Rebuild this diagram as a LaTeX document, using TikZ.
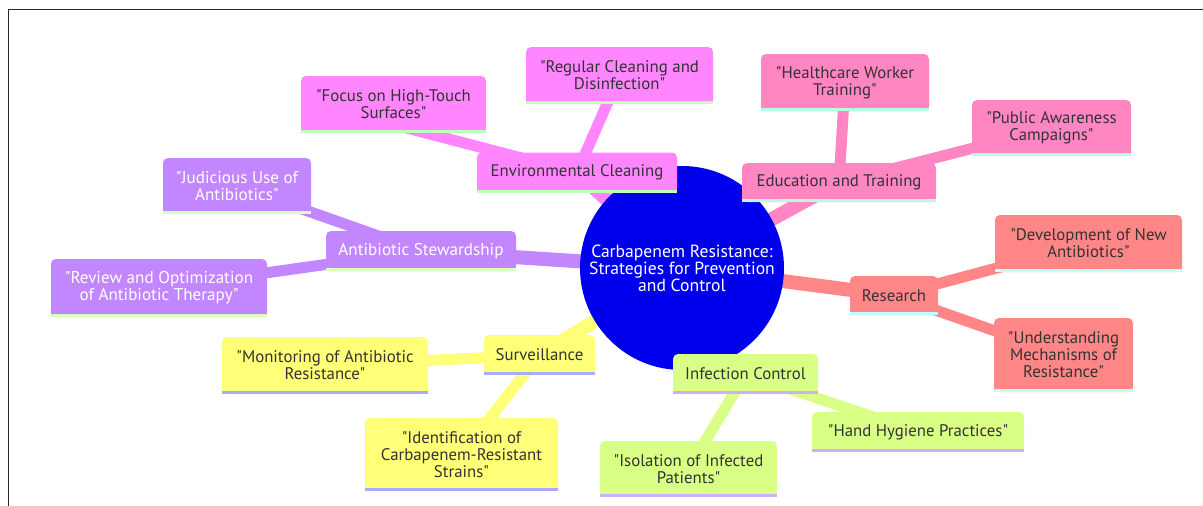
\documentclass[tikz,border=0pt]{standalone}
\usepackage{fontspec}
\newfontfamily\mmfont{PT Sans}
\usetikzlibrary{backgrounds}
\definecolor{rootc}{RGB}{0,0,236}
\definecolor{yelc}{RGB}{255,255,120}
\definecolor{grnc}{RGB}{217,255,134}
\definecolor{purc}{RGB}{194,134,255}
\definecolor{magc}{RGB}{255,134,255}
\definecolor{pnkc}{RGB}{255,134,194}
\definecolor{salc}{RGB}{255,134,134}
\definecolor{yelL}{RGB}{170,170,255}
\definecolor{grnL}{RGB}{205,175,255}
\definecolor{purL}{RGB}{215,255,190}
\definecolor{magL}{RGB}{190,255,190}
\definecolor{pnkL}{RGB}{180,255,225}
\definecolor{salL}{RGB}{190,255,255}
\definecolor{txt}{RGB}{51,51,51}
\tikzset{
  mm/.style n args={3}{rectangle, rounded corners=5pt, fill=#1, inner sep=0pt,
    minimum width=#2, minimum height=#3, align=center, text=txt,
    font=\mmfont\fontsize{16.8}{17}\selectfont},
  wt/.style={text=white, font=\mmfont\fontsize{17.1}{17}\selectfont},
  rootnode/.style={circle, fill=rootc, minimum size=204pt, inner sep=0pt, align=center,
    text=white, font=\mmfont\fontsize{17.6}{17}\selectfont},
  e0/.style={line width=14pt, draw=#1},
  e1/.style={line width=11pt, draw=#1},
}
\begin{document}
\begin{tikzpicture}[x=1pt,y=-1pt]
\useasboundingbox (0,0) rectangle (1203,506);
\draw[line width=1pt, draw=black!85] (8,506) -- (8,9) -- (1203,9);
% nodes
\node[rootnode] (root) at (682,268) {Carbapenem Resistance:\\Strategies for Prevention\\and Control};
\node[mm={magc}{200pt}{40pt}] (env) at (577,172.5) {Environmental Cleaning};
\node[mm={magc}{185pt}{57pt}] (focus) at (393.5,104.5) {"Focus on High-Touch\\Surfaces"};
\node[mm={magc}{187pt}{57pt}] (regular) at (619.5,75.5) {"Regular Cleaning and\\Disinfection"};
\node[mm={pnkc}{194pt}{39pt}] (edu) at (839,182.5) {Education and Training};
\node[mm={pnkc}{168pt}{57pt}] (health) at (845,82.5) {"Healthcare Worker\\Training"};
\node[mm={pnkc}{159pt}{56pt}] (public) at (1051.5,128) {"Public Awareness\\Campaigns"};
\node[mm={salc}{88pt}{39pt}] (research) at (894,295.5) {Research};
\node[mm={salc}{187pt}{57pt}] (dev) at (1088.5,243.5) {"Development of New\\Antibiotics"};
\node[mm={salc}{139pt}{74pt}] (und) at (1063.5,355) {"Understanding\\Mechanisms of\\Resistance"};
\node[mm={grnc}{145pt}{40pt}] (infc) at (745.5,374) {Infection Control};
\node[mm={grnc}{212pt}{40pt}] (hand) at (918,432) {"Hand Hygiene Practices"};
\node[mm={grnc}{177pt}{56pt}] (isol) at (688.5,469) {"Isolation of Infected\\Patients"};
\node[mm={yelc}{111pt}{40pt}] (surv) at (539.5,355) {Surveillance};
\node[mm={yelc}{206pt}{57pt}] (monit) at (325,365.5) {"Monitoring of Antibiotic\\Resistance"};
\node[mm={yelc}{193pt}{73pt}] (ident) at (461.5,454.5) {"Identification of\\Carbapenem-Resistant\\Strains"};
\node[mm={purc}{190pt}{40pt}, wt] (abx) at (421,251) {Antibiotic Stewardship};
\node[mm={purc}{148pt}{56pt}, wt] (judi) at (237,186) {"Judicious Use of\\Antibiotics"};
\node[mm={purc}{216pt}{58pt}, wt] (review) at (159,288) {"Review and Optimization\\of Antibiotic Therapy"};
% square bottom corners and bottom stripes
\foreach \n/\c/\s in {env/magc/magL, focus/magc/magL, regular/magc/magL,
  edu/pnkc/pnkL, health/pnkc/pnkL, public/pnkc/pnkL,
  research/salc/salL, dev/salc/salL, und/salc/salL,
  infc/grnc/grnL, hand/grnc/grnL, isol/grnc/grnL,
  surv/yelc/yelL, monit/yelc/yelL, ident/yelc/yelL,
  abx/purc/purL, judi/purc/purL, review/purc/purL}{
  \fill[\c] (\n.south west) rectangle ([yshift=6pt]\n.south east);
  \fill[\s] (\n.south west) rectangle ([yshift=3pt]\n.south east);
}
% connectors
\begin{pgfonlayer}{background}
\draw[e0=magc] (root.center) -- (env.center);
\draw[e0=pnkc] (root.center) -- (edu.center);
\draw[e0=salc] (root.center) -- (research.center);
\draw[e0=grnc] (root.center) -- (infc.center);
\draw[e0=yelc] (root.center) -- (surv.center);
\draw[e0=purc] (root.center) -- (abx.center);
\draw[e1=magc] (env.center) -- ([yshift=-20pt]focus.center);
\draw[e1=magc] (env.center) -- (regular.center);
\draw[e1=pnkc] (edu.center) -- (health.center);
\draw[e1=pnkc] (edu.center) -- (public.center);
\draw[e1=salc] (research.center) -- (dev.center);
\draw[e1=salc] (research.center) -- (und.center);
\draw[e1=grnc] (infc.center) -- (hand.center);
\draw[e1=grnc] (infc.center) -- (isol.center);
\draw[e1=yelc] (surv.center) -- (monit.center);
\draw[e1=yelc] (surv.center) -- (ident.center);
\draw[e1=purc] (abx.center) -- (judi.center);
\draw[e1=purc] (abx.center) -- (review.center);
\end{pgfonlayer}
\end{tikzpicture}
\end{document}
